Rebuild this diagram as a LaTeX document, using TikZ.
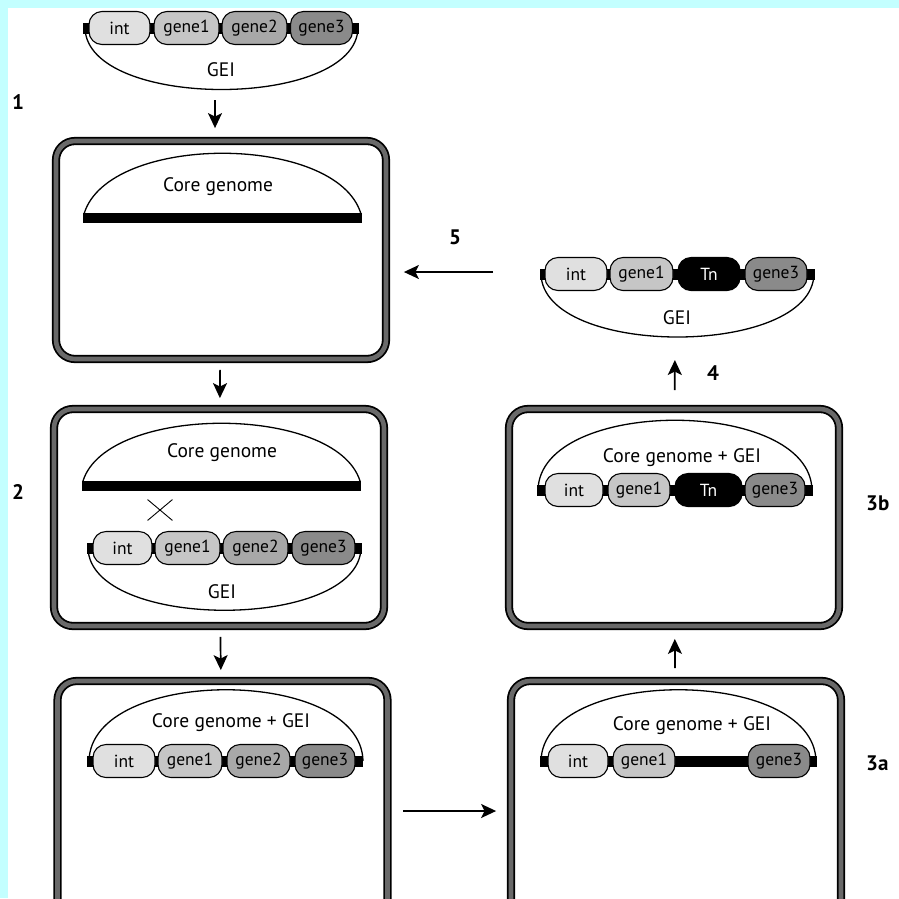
\documentclass[tikz,border=0pt]{standalone}
\usepackage{fontspec}
\setmainfont{PT Sans}
\usetikzlibrary{arrows.meta,shapes.misc}
\definecolor{bgcyan}{RGB}{195,255,255}
\definecolor{cint}{RGB}{224,224,224}
\definecolor{cgA}{RGB}{198,198,198}
\definecolor{cgB}{RGB}{168,168,168}
\definecolor{cgC}{RGB}{138,138,138}
\definecolor{rimgray}{RGB}{105,105,105}
\begin{document}
\begin{tikzpicture}[x=1pt,y=-1pt,
 cell/.style={draw=black, line width=1.8, double=rimgray, double distance=4.6, rounded corners=19, minimum width=330, inner sep=0},
 gn/.style={draw=black, line width=1.1, rounded corners=13, minimum height=33, inner sep=0, font=\fontsize{17.5}{17.5}\selectfont},
 lbl/.style={font=\fontsize{19.5}{19.5}\selectfont, inner sep=0},
 num/.style={font=\bfseries\fontsize{21}{21}\selectfont, inner sep=0},
 arr/.style={line width=1.7, -{Stealth[length=15,width=14,inset=3.5]}},
 chain/.style={line width=1.3},
 bb/.style={line width=11},
 bar/.style={line width=10}
]
\useasboundingbox (0,0) rectangle (899,898);
\clip (0,0) rectangle (899,898);
\fill[white] (0,0) rectangle (899,898);
\fill[bgcyan] (0,0) rectangle (899,8);
\fill[bgcyan] (0,0) rectangle (8,898);

% cells
\node[cell, minimum height=218] (b1) at (221,250) {};
\node[cell, minimum height=217] (b2) at (219,517.5) {};
\node[cell, minimum height=260] (b3) at (222.5,811) {};
\node[cell, minimum height=260] (b3a) at (676,811) {};
\node[cell, minimum height=217] (b3b) at (674,517.5) {};

% top GEI
\draw[chain] (85,28) .. controls (87,110) and (356,110) .. (358,28);
\draw[bb] (83,28) -- (359,28);
\node[gn, fill=cint, minimum width=61] (t0i) at (119.5,28) {int};
\node[gn, fill=cgA, minimum width=65] (t0a) at (186.5,28) {gene1};
\node[gn, fill=cgB, minimum width=65] (t0b) at (254.5,28) {gene2};
\node[gn, fill=cgC, minimum width=62] (t0c) at (321.5,28) {gene3};
\node[lbl] (t0g) at (221,70) {GEI};

% box 1
\draw[chain] (84,214) .. controls (108,133) and (337,133) .. (361,214);
\draw[bar] (83,218) -- (362,218);
\node[lbl] (b1t) at (218,187) {Core genome};

% box 2
\draw[chain] (83,481) .. controls (107,404) and (336,404) .. (360,481);
\draw[bar] (82,485.5) -- (361,485.5);
\node[lbl] (b2t) at (222,453) {Core genome};
\node[cross out, draw, line width=0.9, minimum width=24, minimum height=20, inner sep=0] (xm) at (160,510) {};
\draw[chain] (88,548) .. controls (90,631) and (359,631) .. (361,548);
\draw[bb] (87,548) -- (362,548);
\node[gn, fill=cint, minimum width=59] (b2i) at (122.5,548) {int};
\node[gn, fill=cgA, minimum width=65] (b2a) at (187.5,548) {gene1};
\node[gn, fill=cgB, minimum width=65] (b2b) at (255.5,548) {gene2};
\node[gn, fill=cgC, minimum width=63] (b2c) at (323.5,548) {gene3};
\node[lbl] (b2g) at (222,592) {GEI};

% box 3
\draw[chain] (89,761) .. controls (91,666) and (361,666) .. (363,761);
\draw[bb] (87,761) -- (363,761);
\node[gn, fill=cint, minimum width=62] (b3i) at (124,761) {int};
\node[gn, fill=cgA, minimum width=64] (b3x) at (190,761) {gene1};
\node[gn, fill=cgB, minimum width=63] (b3y) at (258.5,761) {gene2};
\node[gn, fill=cgC, minimum width=60] (b3z) at (325,761) {gene3};
\node[lbl] (b3t) at (231,723) {Core genome + GEI};

% box 3a
\draw[chain] (541,761) .. controls (543,666) and (814,666) .. (816,761);
\draw[bb] (540,761) -- (817,761);
\node[gn, fill=cint, minimum width=60] (b4i) at (578,761) {int};
\node[gn, fill=cgA, minimum width=62] (b4a) at (644,761) {gene1};
\node[gn, fill=cgC, minimum width=62] (b4c) at (779,761) {gene3};
\node[lbl] (b4t) at (692,726) {Core genome + GEI};

% box 3b
\draw[chain] (538,490) .. controls (540,397) and (810,397) .. (812,490);
\draw[bb] (537,490) -- (813,490);
\node[gn, fill=cint, minimum width=58] (b5i) at (574,490) {int};
\node[gn, fill=cgA, minimum width=62] (b5a) at (639,490) {gene1};
\node[gn, fill=black, text=white, minimum width=67] (b5n) at (708.5,490) {Tn};
\node[gn, fill=cgC, minimum width=60] (b5c) at (775,490) {gene3};
\node[lbl] (b5t) at (682,458) {Core genome + GEI};

% top-right GEI
\draw[chain] (541,274) .. controls (543,358) and (812,358) .. (814,274);
\draw[bb] (540,274) -- (815,274);
\node[gn, fill=cint, minimum width=62] (r0i) at (576,274) {int};
\node[gn, fill=cgA, minimum width=63] (r0a) at (641.5,274) {gene1};
\node[gn, fill=black, text=white, minimum width=62] (r0n) at (709,274) {Tn};
\node[gn, fill=cgC, minimum width=62] (r0c) at (776,274) {gene3};
\node[lbl] (r0g) at (677,318) {GEI};

% step numbers
\node[num] (n1) at (18,102) {1};
\node[num] (n2) at (18,492) {2};
\node[num, anchor=west] (n3b) at (866,503) {3b};
\node[num, anchor=west] (n3a) at (866,763) {3a};
\node[num] (n4) at (713,373) {4};
\node[num] (n5) at (455,237) {5};

% arrows
\coordinate (t0low) at (215,92);
\draw[arr, shorten <=8, shorten >=12] (t0low) -- (t0low |- b1.north);
\draw[arr, shorten <=10, shorten >=10] (b1) -- (b2);
\draw[arr, shorten <=10, shorten >=10] (b2) -- (b3);
\draw[arr, shorten <=15, shorten >=14] (b3) -- (b3a);
\draw[arr, shorten <=12, shorten >=12] (b3a) -- (b3b);
\coordinate (rlow) at (675,340);
\draw[arr, shorten <=18, shorten >=20] (b3b) -- (rlow);
\coordinate (rleft) at (540,272);
\draw[arr, shorten <=47, shorten >=17] (rleft) -- (rleft -| b1.east);
\end{tikzpicture}
\end{document}
